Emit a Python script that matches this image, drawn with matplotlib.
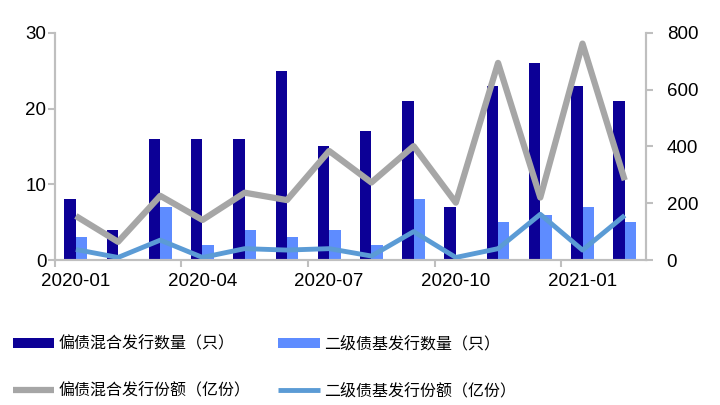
import numpy as np
import matplotlib
matplotlib.use("Agg")
import matplotlib.pyplot as plt
from matplotlib.ticker import FixedLocator

plt.rcParams['font.family'] = ['Liberation Sans', 'Noto Sans CJK SC', 'DejaVu Sans']

months = ["2020-01", "2020-02", "2020-03", "2020-04", "2020-05", "2020-06", "2020-07",
          "2020-08", "2020-09", "2020-10", "2020-11", "2020-12", "2021-01", "2021-02"]
mixed_count = [8, 4, 16, 16, 16, 25, 15, 17, 21, 7, 23, 26, 23, 21]
tier2_count = [3, 0, 7, 2, 4, 3, 4, 2, 8, 0, 5, 6, 7, 5]
mixed_share = [155, 64, 226, 141, 237, 211, 384, 273, 401, 202, 694, 220, 762, 281]
tier2_share = [37, 9, 70, 9, 40, 35, 40, 14, 100, 9, 40, 161, 35, 157]

c_dark = "#0c0096"
c_light = "#5e8cff"
c_gray = "#a6a6a6"
c_blue = "#5b9bd5"
c_axis = "#bfbfbf"

fig = plt.figure(figsize=(7.2, 4.05), dpi=100)
ax = fig.add_axes([0.076, 0.358, 0.821, 0.561])
ax2 = ax.twinx()

x = np.arange(len(months))
w = 0.27
b1 = ax.bar(x - w / 2, mixed_count, w, color=c_dark, zorder=2)
b2 = ax.bar(x + w / 2, tier2_count, w, color=c_light, zorder=2)
l1, = ax2.plot(x, mixed_share, color=c_gray, lw=4.5, solid_capstyle='butt')
l2, = ax2.plot(x, tier2_share, color=c_blue, lw=3.5, solid_capstyle='butt')

ax.set_xlim(-0.5, len(months) - 0.5)
ax.set_ylim(0, 30)
ax.set_yticks([0, 10, 20, 30])
ax2.set_ylim(0, 800)
ax2.set_yticks([0, 200, 400, 600, 800])

# labels centred on categories, tick marks on category boundaries
ax.set_xticks(x[::3])
ax.set_xticklabels(months[::3])
ax.xaxis.set_minor_locator(FixedLocator(np.arange(-0.5, len(months), 3)))
ax.tick_params(axis='x', which='major', length=0, pad=9, labelsize=13.5)
ax.tick_params(axis='x', which='minor', length=5, color=c_axis, width=1.5)
ax.tick_params(axis='y', length=5, color=c_axis, width=1.5, labelsize=13.5, pad=1)
ax2.tick_params(axis='y', length=5, color=c_axis, width=1.5, labelsize=13.5, pad=10)

for a in (ax, ax2):
    a.spines['top'].set_visible(False)
    for s in ('left', 'right', 'bottom'):
        a.spines[s].set_color(c_axis)
        a.spines[s].set_linewidth(1.5)
ax.set_zorder(ax2.get_zorder() - 1)
ax.patch.set_visible(False)

fig.legend([b1, l1, b2, l2],
           ["偏债混合发行数量（只）", "偏债混合发行份额（亿份）",
            "二级债基发行数量（只）", "二级债基发行份额（亿份）"],
           ncol=2, loc='upper left', bbox_to_anchor=(0.009, 0.188),
           frameon=False, prop={'family': ['Noto Sans CJK SC'], 'size': 11.5},
           handlelength=2.6, handleheight=0.6, handletextpad=0.25,
           columnspacing=1.75, labelspacing=1.9, borderaxespad=0)

fig.savefig("out.png", dpi=100)
